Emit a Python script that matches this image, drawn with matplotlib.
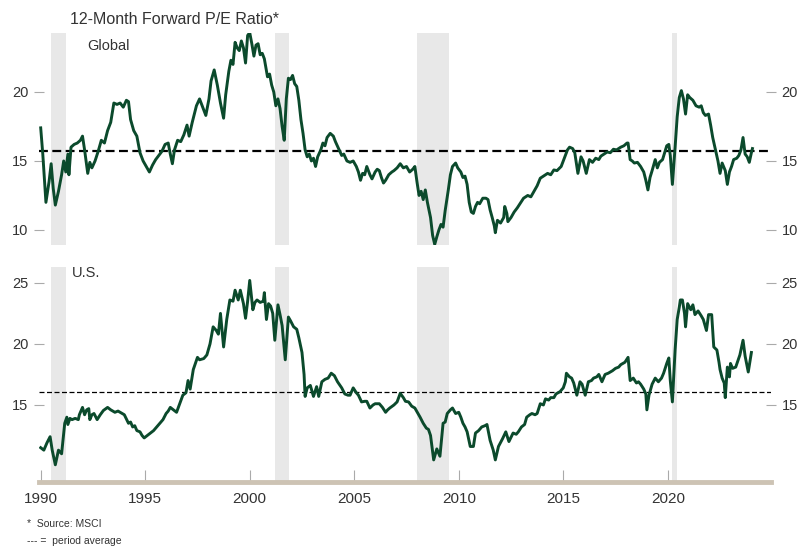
import matplotlib
matplotlib.use('Agg')
import matplotlib.pyplot as plt

# Global 12-month forward P/E (MSCI)
glob_years = [1990.0, 1990.1, 1990.25, 1990.4, 1990.5, 1990.6, 1990.7, 1990.85, 1991.0, 1991.1,
              1991.2, 1991.3, 1991.35, 1991.45, 1991.6, 1991.75, 1991.9, 1992.0, 1992.1, 1992.25,
              1992.35, 1992.45, 1992.6, 1992.75, 1992.9, 1993.05, 1993.2, 1993.35, 1993.5, 1993.65,
              1993.8, 1993.95, 1994.1, 1994.2, 1994.3, 1994.45, 1994.6, 1994.75, 1994.9, 1995.05,
              1995.2, 1995.35, 1995.5, 1995.65, 1995.8, 1995.95, 1996.1, 1996.2, 1996.3, 1996.4,
              1996.55, 1996.7, 1996.85, 1997.0, 1997.1, 1997.25, 1997.45, 1997.6, 1997.75, 1997.9,
              1998.05, 1998.15, 1998.3, 1998.45, 1998.6, 1998.75, 1998.85, 1999.0, 1999.1, 1999.2,
              1999.3, 1999.4, 1999.5, 1999.6, 1999.7, 1999.8, 1999.9, 2000.0, 2000.1, 2000.2,
              2000.3, 2000.4, 2000.5, 2000.6, 2000.7, 2000.85, 2000.95, 2001.05, 2001.15, 2001.25,
              2001.35, 2001.45, 2001.55, 2001.65, 2001.75, 2001.85, 2001.95, 2002.05, 2002.15, 2002.25,
              2002.35, 2002.45, 2002.55, 2002.65, 2002.75, 2002.85, 2002.95, 2003.05, 2003.15, 2003.25,
              2003.4, 2003.5, 2003.6, 2003.7, 2003.85, 2004.0, 2004.1, 2004.25, 2004.4, 2004.5,
              2004.65, 2004.8, 2004.95, 2005.1, 2005.2, 2005.3, 2005.4, 2005.5, 2005.6, 2005.75,
              2005.85, 2006.0, 2006.1, 2006.2, 2006.3, 2006.4, 2006.5, 2006.65, 2006.8, 2006.9,
              2007.05, 2007.2, 2007.35, 2007.5, 2007.65, 2007.8, 2007.9, 2008.0, 2008.1, 2008.2,
              2008.3, 2008.4, 2008.5, 2008.65, 2008.75, 2008.85, 2008.95, 2009.05, 2009.15, 2009.25,
              2009.35, 2009.5, 2009.6, 2009.7, 2009.85, 2009.95, 2010.1, 2010.2, 2010.3, 2010.4,
              2010.5, 2010.6, 2010.7, 2010.8, 2010.9, 2011.0, 2011.15, 2011.3, 2011.4, 2011.5,
              2011.6, 2011.7, 2011.75, 2011.85, 2012.0, 2012.15, 2012.2, 2012.3, 2012.35, 2012.5,
              2012.65, 2012.8, 2012.95, 2013.1, 2013.3, 2013.45, 2013.6, 2013.75, 2013.9, 2014.05,
              2014.25, 2014.4, 2014.55, 2014.7, 2014.9, 2015.0, 2015.1, 2015.2, 2015.3, 2015.45,
              2015.55, 2015.7, 2015.85, 2015.95, 2016.1, 2016.25, 2016.4, 2016.55, 2016.7, 2016.8,
              2016.95, 2017.1, 2017.25, 2017.4, 2017.55, 2017.75, 2017.9, 2018.05, 2018.1, 2018.2,
              2018.3, 2018.4, 2018.55, 2018.7, 2018.85, 2018.95, 2019.05, 2019.15, 2019.25, 2019.4,
              2019.5, 2019.6, 2019.75, 2019.85, 2019.95, 2020.05, 2020.12, 2020.22, 2020.35, 2020.45,
              2020.55, 2020.65, 2020.75, 2020.85, 2020.95, 2021.05, 2021.2, 2021.35, 2021.5, 2021.6,
              2021.7, 2021.8, 2021.95, 2022.05, 2022.15, 2022.3, 2022.4, 2022.5, 2022.6, 2022.75,
              2022.85, 2022.95, 2023.05, 2023.15, 2023.3, 2023.4, 2023.5, 2023.6, 2023.7, 2023.8,
              2023.9, 2024.0, 2024.05]
glob_pe = [17.4, 15.5, 12.0, 13.5, 14.8, 13.0, 11.8, 12.8, 14.0, 15.0,
           14.2, 15.5, 14.0, 16.0, 16.2, 16.3, 16.5, 16.8, 15.8, 14.1,
           14.9, 14.5, 15.0, 15.7, 16.5, 16.3, 17.2, 17.8, 19.2, 19.1,
           19.2, 18.9, 19.4, 19.3, 18.0, 17.2, 16.8, 15.6, 15.0, 14.6,
           14.2, 14.7, 15.1, 15.4, 15.7, 16.2, 16.3, 15.5, 14.8, 15.8,
           16.5, 16.4, 16.9, 17.6, 16.8, 17.8, 19.0, 19.5, 18.9, 18.3,
           19.5, 20.8, 21.6, 20.5, 19.2, 18.1, 19.8, 21.5, 22.3, 22.0,
           23.6, 23.2, 23.0, 23.7, 23.2, 22.1, 24.1, 24.3, 23.5, 22.6,
           23.4, 23.5, 22.7, 22.8, 22.4, 21.1, 21.3, 20.5, 20.0, 19.0,
           19.5, 18.8, 17.5, 16.5, 19.5, 21.0, 20.9, 21.2, 20.6, 20.4,
           19.4, 18.0, 17.0, 15.8, 15.3, 15.5, 15.0, 15.2, 14.6, 15.3,
           15.8, 16.3, 16.1, 16.7, 17.0, 16.8, 16.4, 15.9, 15.4, 15.5,
           15.0, 14.9, 15.0, 14.6, 14.2, 13.6, 14.1, 14.0, 14.6, 14.0,
           13.7, 14.2, 14.4, 14.3, 13.8, 13.4, 13.6, 14.0, 14.2, 14.3,
           14.5, 14.8, 14.5, 14.6, 14.2, 14.4, 14.6, 13.5, 12.5, 12.8,
           12.2, 12.9, 12.0, 10.9, 9.6, 8.95, 9.5, 10.0, 10.4, 10.2,
           11.4, 12.9, 14.0, 14.6, 14.85, 14.5, 14.2, 13.8, 13.9, 13.3,
           12.0, 11.3, 11.2, 11.7, 12.0, 11.9, 12.3, 12.3, 12.2, 11.45,
           10.9, 10.3, 9.8, 10.7, 10.5, 10.9, 11.7, 11.2, 10.6, 10.9,
           11.3, 11.6, 11.95, 12.3, 12.5, 12.4, 12.8, 13.2, 13.75, 13.9,
           14.1, 14.0, 14.35, 14.3, 14.6, 15.0, 15.4, 15.8, 16.0, 15.9,
           15.6, 14.1, 15.3, 15.0, 14.1, 15.1, 14.9, 15.2, 15.1, 15.35,
           15.5, 15.65, 15.6, 15.85, 15.8, 16.0, 16.1, 16.3, 16.3, 15.1,
           15.0, 14.85, 14.9, 14.6, 14.2, 13.6, 12.9, 13.8, 14.3, 15.1,
           14.5, 14.9, 15.1, 15.6, 16.1, 16.2, 15.4, 13.3, 16.0, 18.2,
           19.6, 20.1, 19.5, 18.4, 19.8, 19.6, 19.4, 19.0, 18.9, 19.0,
           18.5, 18.3, 18.4, 17.6, 16.7, 15.7, 15.0, 14.1, 14.85, 14.3,
           13.3, 14.2, 14.6, 15.1, 15.2, 15.4, 15.8, 16.7, 15.5, 15.3,
           14.9, 15.6, 15.9]

# U.S.
us_years = [1990.0, 1990.15, 1990.3, 1990.45, 1990.55, 1990.7, 1990.85, 1991.0, 1991.15, 1991.25,
            1991.3, 1991.4, 1991.5, 1991.65, 1991.8, 1991.85, 1992.0, 1992.1, 1992.2, 1992.3,
            1992.35, 1992.45, 1992.55, 1992.7, 1992.85, 1993.0, 1993.2, 1993.35, 1993.55, 1993.7,
            1993.8, 1994.0, 1994.2, 1994.3, 1994.4, 1994.5, 1994.6, 1994.75, 1994.85, 1994.95,
            1995.1, 1995.25, 1995.4, 1995.55, 1995.7, 1995.85, 1996.0, 1996.1, 1996.2, 1996.35,
            1996.5, 1996.65, 1996.8, 1996.95, 1997.05, 1997.15, 1997.3, 1997.5, 1997.6, 1997.8,
            1997.95, 1998.1, 1998.25, 1998.4, 1998.5, 1998.6, 1998.75, 1998.9, 1999.05, 1999.2,
            1999.3, 1999.45, 1999.55, 1999.7, 1999.8, 1999.9, 2000.0, 2000.15, 2000.25, 2000.35,
            2000.5, 2000.65, 2000.7, 2000.8, 2000.9, 2001.0, 2001.1, 2001.2, 2001.35, 2001.45,
            2001.55, 2001.7, 2001.85, 2001.95, 2002.1, 2002.25, 2002.35, 2002.5, 2002.6, 2002.65,
            2002.75, 2002.9, 2003.05, 2003.2, 2003.3, 2003.45, 2003.6, 2003.75, 2003.9, 2004.05,
            2004.2, 2004.4, 2004.55, 2004.7, 2004.8, 2004.95, 2005.1, 2005.2, 2005.35, 2005.5,
            2005.6, 2005.75, 2005.9, 2006.0, 2006.2, 2006.35, 2006.5, 2006.6, 2006.7, 2006.9,
            2007.05, 2007.2, 2007.35, 2007.45, 2007.6, 2007.75, 2007.9, 2008.05, 2008.15, 2008.3,
            2008.45, 2008.55, 2008.65, 2008.75, 2008.8, 2008.95, 2009.05, 2009.1, 2009.25, 2009.35,
            2009.45, 2009.6, 2009.7, 2009.85, 2010.0, 2010.1, 2010.2, 2010.3, 2010.4, 2010.55,
            2010.7, 2010.8, 2010.95, 2011.1, 2011.25, 2011.35, 2011.5, 2011.65, 2011.75, 2011.9,
            2012.1, 2012.25, 2012.4, 2012.6, 2012.75, 2012.85, 2013.0, 2013.15, 2013.25, 2013.4,
            2013.5, 2013.65, 2013.75, 2013.9, 2014.05, 2014.15, 2014.3, 2014.4, 2014.55, 2014.65,
            2014.85, 2015.0, 2015.1, 2015.15, 2015.3, 2015.4, 2015.5, 2015.65, 2015.8, 2015.9,
            2016.05, 2016.2, 2016.35, 2016.45, 2016.6, 2016.7, 2016.85, 2017.0, 2017.15, 2017.35,
            2017.5, 2017.65, 2017.75, 2017.95, 2018.1, 2018.2, 2018.35, 2018.5, 2018.6, 2018.7,
            2018.85, 2018.95, 2019.0, 2019.1, 2019.25, 2019.4, 2019.55, 2019.7, 2019.8, 2019.95,
            2020.05, 2020.12, 2020.22, 2020.35, 2020.45, 2020.55, 2020.6, 2020.7, 2020.8, 2020.85,
            2020.95, 2021.1, 2021.2, 2021.3, 2021.45, 2021.6, 2021.7, 2021.85, 2021.95, 2022.1,
            2022.2, 2022.35, 2022.45, 2022.5, 2022.6, 2022.7, 2022.75, 2022.85, 2022.95, 2023.0,
            2023.1, 2023.25, 2023.35, 2023.45, 2023.6, 2023.7, 2023.85, 2024.0]
us_pe = [11.5, 11.3, 11.9, 12.4, 11.3, 10.1, 11.3, 11.0, 13.5, 14.0,
         13.4, 13.9, 13.8, 13.9, 13.8, 14.2, 14.8, 14.2, 14.6, 14.7,
         13.8, 14.2, 14.3, 13.8, 14.2, 14.55, 14.8, 14.6, 14.4, 14.5,
         14.4, 14.2, 13.5, 13.6, 13.2, 13.3, 12.9, 12.8, 12.5, 12.3,
         12.5, 12.7, 12.9, 13.2, 13.5, 13.8, 14.3, 14.5, 14.8, 14.6,
         14.4, 15.1, 15.8, 16.0, 17.0, 16.3, 17.9, 18.9, 18.7, 18.8,
         19.1, 20.0, 21.4, 21.1, 20.8, 22.5, 19.75, 22.0, 23.6, 23.5,
         24.4, 23.6, 24.4, 23.3, 22.1, 23.5, 25.2, 22.8, 23.4, 23.6,
         23.4, 23.5, 24.2, 22.0, 23.3, 23.1, 22.5, 20.3, 23.2, 22.4,
         21.5, 18.7, 22.2, 21.9, 21.4, 21.2, 20.5, 19.3, 17.5, 15.7,
         16.4, 16.6, 15.7, 16.5, 15.7, 16.9, 17.1, 17.2, 17.6, 17.4,
         16.9, 16.4, 15.9, 15.8, 15.8, 16.4, 16.0, 15.8, 15.25, 15.3,
         15.3, 14.75, 15.0, 15.1, 15.1, 14.8, 14.4, 14.6, 14.75, 15.0,
         15.25, 15.95, 15.6, 15.3, 15.25, 14.9, 14.75, 14.3, 14.0, 13.5,
         13.1, 13.0, 12.5, 11.2, 10.5, 11.4, 11.0, 10.8, 13.5, 13.6,
         14.3, 14.6, 14.75, 14.3, 14.4, 14.0, 13.5, 13.2, 12.8, 11.6,
         11.6, 12.7, 12.9, 13.2, 13.3, 13.4, 12.1, 11.3, 10.5, 11.6,
         12.25, 12.8, 12.0, 12.7, 12.6, 12.8, 13.2, 13.4, 14.0, 14.2,
         14.3, 14.2, 14.3, 15.1, 15.0, 15.5, 15.4, 15.6, 15.6, 15.9,
         16.1, 16.4, 16.9, 17.6, 17.3, 17.2, 16.8, 15.8, 16.9, 16.7,
         15.8, 16.9, 17.0, 17.2, 17.3, 17.5, 16.9, 17.5, 17.6, 17.8,
         18.0, 18.1, 18.3, 18.5, 18.9, 17.0, 17.2, 16.8, 16.9, 16.7,
         16.3, 15.9, 14.6, 15.8, 16.7, 17.2, 16.9, 17.2, 17.6, 18.4,
         18.85, 17.0, 15.25, 19.5, 22.0, 23.0, 23.6, 23.6, 22.5, 21.4,
         23.3, 22.8, 23.2, 22.4, 22.7, 22.3, 22.0, 21.1, 22.4, 22.4,
         19.75, 19.5, 18.5, 17.9, 17.2, 16.8, 15.6, 18.1, 17.3, 18.4,
         18.0, 18.1, 18.6, 19.1, 20.3, 19.0, 17.7, 19.3]

glob_avg = 15.7
us_avg = 16.1

# recession shading
rec_start = [1990.5, 2001.2, 2008.0, 2020.2]
rec_end = [1991.2, 2001.9, 2009.55, 2020.45]

green = '#0b4a2c'
txt = '#333333'
num_font = ['Liberation Sans', 'DejaVu Sans']
narrow = ['Liberation Sans Narrow', 'Liberation Sans', 'DejaVu Sans']

fig = plt.figure(figsize=(8.01, 5.52), dpi=100)
ax1 = fig.add_axes([0.0482, 0.5562, 0.9144, 0.3841])
ax2 = fig.add_axes([0.0482, 0.1268, 0.9144, 0.3895])

panels = [(ax1, glob_years, glob_pe, glob_avg, (8.91, 24.28), [10, 15, 20], 1.6),
          (ax2, us_years, us_pe, us_avg, (8.69, 26.3), [15, 20, 25], 0.9)]

for ax, yrs, vals, avg, ylim, yt, dlw in panels:
    for s, e in zip(rec_start, rec_end):
        ax.axvspan(s, e, color='#e8e8e8', lw=0, zorder=0)
    ax.plot(yrs, vals, color=green, lw=2.1, zorder=3, solid_joinstyle='round')
    ax.axhline(avg, color='black', lw=dlw, dashes=(4, 2), zorder=2)
    ax.set_xlim(1989.9, 2024.94)
    ax.set_ylim(*ylim)
    ax.set_yticks(yt)
    ax.tick_params(axis='y', which='both', left=True, right=True, labelleft=True,
                   labelright=True, direction='inout', length=7, width=0.8,
                   color='#aaaaaa', labelcolor=txt, labelsize=10.5, pad=4)
    for lab in ax.get_yticklabels():
        lab.set_family(num_font)
    for sp in ax.spines.values():
        sp.set_visible(False)
    ax.set_facecolor('none')

ax1.set_xticks([])
ax2.set_xticks([1990, 1995, 2000, 2005, 2010, 2015, 2020])
ax2.tick_params(axis='x', direction='in', length=9, width=0.8, color='#aaaaaa',
                labelcolor=txt, labelsize=11, pad=7)
for lab in ax2.get_xticklabels():
    lab.set_family(narrow)
ax2.spines['bottom'].set_visible(True)
ax2.spines['bottom'].set_color('#cdc3b4')
ax2.spines['bottom'].set_linewidth(3.5)
ax2.spines['bottom'].set_zorder(4)

fig.text(0.087, 0.978, '12-Month Forward P/E Ratio*', fontsize=11.5, color=txt,
         family=num_font, va='top')
ax1.text(0.066, 0.97, 'Global', transform=ax1.transAxes, fontsize=10.5, color=txt,
         family=num_font, va='top')
ax2.text(0.046, 1.005, 'U.S.', transform=ax2.transAxes, fontsize=10.5, color=txt,
         family=num_font, va='top')
fig.text(0.034, 0.051, '*  Source: MSCI', fontsize=7.5, color=txt, family=narrow, va='center')
fig.text(0.034, 0.020, '--- =  period average', fontsize=7.5, color=txt, family=narrow,
         va='center')

plt.savefig('out.png', dpi=100)
